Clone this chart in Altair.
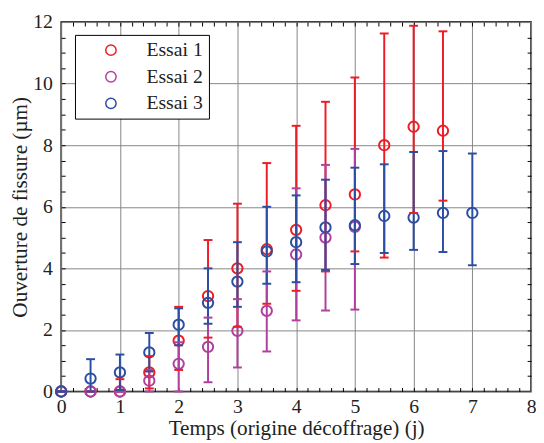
import altair as alt
import pandas as pd

# ---- data ----
t1 = [0, 0.5, 1, 1.5, 2, 2.5, 3, 3.5, 4, 4.5, 5, 5.5, 6, 6.5]
m1 = [0, 0, 0, 0.62, 1.65, 3.1, 4.0, 4.62, 5.25, 6.05, 6.4, 8.0, 8.6, 8.47]
lo1 = [0, 0, 0, 0.1, 0.7, 1.75, 2.1, 2.85, 3.27, 3.9, 4.55, 4.35, 5.8, 6.2]
up1 = [0, 0, 0.4, 1.15, 2.75, 4.92, 6.1, 7.42, 8.63, 9.41, 10.2, 11.63, 11.88, 11.7]

t2 = [0, 0.5, 1, 1.5, 2, 2.5, 3, 3.5, 4, 4.5, 5]
m2 = [0, 0, 0, 0.35, 0.9, 1.45, 1.97, 2.62, 4.45, 5.0, 5.35]
lo2 = [0, 0, 0, 0, 0, 0.3, 0.78, 1.3, 2.31, 2.63, 2.66]
up2 = [0, 0, 0, 0.7, 1.6, 2.4, 3.0, 3.9, 6.6, 7.36, 7.88]

t3 = [0, 0.5, 1, 1.5, 2, 2.5, 3, 3.5, 4, 4.5, 5, 5.5, 6, 6.5, 7]
m3 = [0, 0.42, 0.62, 1.27, 2.17, 2.88, 3.57, 4.55, 4.85, 5.33, 5.4, 5.7, 5.65, 5.8, 5.8]
lo3 = [0, 0, 0.05, 0.65, 1.5, 2.2, 2.75, 3.5, 3.55, 3.95, 4.14, 4.5, 4.6, 4.53, 4.1]
up3 = [0, 1.05, 1.2, 1.9, 2.7, 4.0, 4.85, 6.0, 6.37, 6.88, 7.27, 7.38, 7.78, 7.81, 7.73]

series = ["Essai 1", "Essai 2", "Essai 3"]
colors = ["#ee1c25", "#b0409e", "#2c4ea2"]

x_major = [0, 1, 2, 3, 4, 5, 6, 7, 8]
y_major = [0, 2, 4, 6, 8, 10, 12]
x_minor = [round(i * 0.2, 1) for i in range(1, 40)]
y_minor = [round(i * 0.5, 1) for i in range(1, 24)]

rows = []
for k, (name, ts, ms, los, ups) in enumerate(
    [(series[0], t1, m1, lo1, up1), (series[1], t2, m2, lo2, up2), (series[2], t3, m3, lo3, up3)]
):
    for t, m, lo, up in zip(ts, ms, los, ups):
        rows.append(dict(essai=name, order=k, t=t, m=m, lo=lo, up=up))
df = pd.DataFrame(rows)

FONT = "Liberation Serif, Times New Roman, serif"
xscale = alt.Scale(domain=[0, 8], nice=False, zero=False)
yscale = alt.Scale(domain=[0, 12], nice=False, zero=False)
cscale = alt.Scale(domain=series, range=colors)

leg = alt.Legend(
    orient="none", legendX=14, legendY=13, title=None,
    strokeColor="black", fillColor="white", padding=5.5,
    symbolOffset=21, labelOffset=26, rowPadding=7,
    symbolSize=110, symbolStrokeWidth=1.5, symbolType="circle",
    symbolFillColor="transparent",
    labelFontSize=20, labelFont=FONT, labelColor="#222",
    labelExpr="datum.label + '\u00a0\u00a0'",
)

base = alt.Chart(df)

points = base.mark_point(shape="circle", filled=False, size=110, strokeWidth=2, opacity=1).encode(
    x=alt.X(
        "t:Q",
        scale=xscale,
        axis=alt.Axis(
            orient="bottom", values=x_major, grid=True, ticks=False, domain=False,
            title="Temps (origine décoffrage) (j)", labelFlush=False,
        ),
    ),
    y=alt.Y(
        "m:Q",
        scale=yscale,
        axis=alt.Axis(
            orient="left", values=y_major, grid=True, ticks=False, domain=False,
            title="Ouverture de fissure (µm)", labelFlush=False,
        ),
    ),
    color=alt.Color("essai:N", scale=cscale, legend=leg),
)

rules = base.mark_rule(strokeWidth=2).encode(
    x=alt.X("t:Q", scale=xscale, axis=None),
    y=alt.Y("lo:Q", scale=yscale, axis=None),
    y2="up:Q",
    color=alt.Color("essai:N", scale=cscale, legend=leg),
)

caps = base.transform_fold(["lo", "up"], as_=["k", "v"]).mark_point(
    shape="M-1,0L1,0", filled=False, size=81, strokeWidth=2, opacity=1
).encode(
    x=alt.X("t:Q", scale=xscale, axis=None),
    y=alt.Y("v:Q", scale=yscale, axis=None),
    color=alt.Color("essai:N", scale=cscale, legend=leg),
)

minor_ax = dict(labels=False, domain=False, grid=False, title=None, tickColor="black", tickWidth=1)

minor_bl = base.mark_point(opacity=0).encode(
    x=alt.X("t:Q", scale=xscale, axis=alt.Axis(orient="bottom", offset=-4, tickSize=4, values=x_minor, **minor_ax)),
    y=alt.Y("m:Q", scale=yscale, axis=alt.Axis(orient="left", offset=-4, tickSize=4, values=y_minor, **minor_ax)),
)
minor_tr = base.mark_point(opacity=0).encode(
    x=alt.X("t:Q", scale=xscale, axis=alt.Axis(orient="top", offset=-4, tickSize=4, values=x_minor, **minor_ax)),
    y=alt.Y("m:Q", scale=yscale, axis=alt.Axis(orient="right", offset=-4, tickSize=4, values=y_minor, **minor_ax)),
)

chart = (
    alt.layer(points, minor_bl, minor_tr, rules, caps)
    .resolve_axis(x="independent", y="independent")
    .properties(
        width=477,
        height=375,
        autosize=alt.AutoSizeParams(type="none"),
        padding={"left": 54, "top": 11, "right": 5, "bottom": 49},
    )
    .configure_view(stroke="black", strokeWidth=1.5)
    .configure_axis(
        labelFont=FONT, titleFont=FONT, labelFontSize=20, titleFontSize=21.5,
        labelColor="#222", titleColor="#222", titleFontWeight="normal",
        gridColor="#868686", gridWidth=1,
    )
    .configure_axisBottom(titlePadding=2, labelPadding=5)
    .configure_axisLeft(titlePadding=1, labelPadding=9)
)

chart.save("out.html", embed_options={"renderer": "svg", "actions": False})
